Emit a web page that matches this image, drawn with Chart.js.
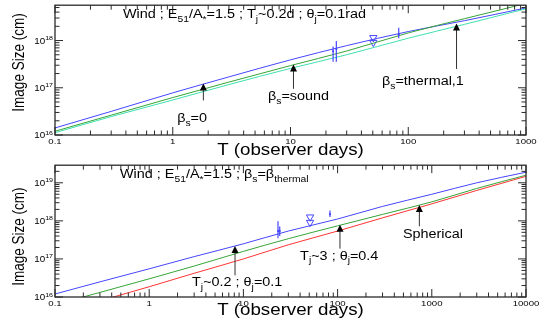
<!DOCTYPE html>
<html>
<head>
<meta charset="utf-8">
<script src="https://cdn.jsdelivr.net/npm/chart.js@4.4.0/dist/chart.umd.min.js"></script>
<style>
html, body { margin: 0; padding: 0; background: #fff; }
#wrap { position: relative; width: 545px; height: 327px; }
canvas { position: absolute; left: 0; }
</style>
</head>
<body>
<div id="wrap">
  <canvas id="topChart" width="545" height="160" style="top:0"></canvas>
  <canvas id="botChart" width="545" height="167" style="top:160px"></canvas>
</div>
<script>
// ---- top panel : Wind, E51/A*=1.5, Tj~0.2d, theta_j=0.1rad
var topT     = [0.1, 0.3, 1, 3, 10, 30, 100, 300, 1000];
var topBlue  = [1.41e16, 3.16e16, 7.8e16, 1.70e17, 3.9e17, 7.8e17, 1.55e18, 2.63e18, 4.9e18];
var topGreen = [1.2e16, 2.63e16, 6.2e16, 1.32e17, 2.95e17, 6.0e17, 1.45e18, 2.9e18, 6.1e18];
var topCyan  = [1.12e16, 2.45e16, 5.5e16, 1.17e17, 2.57e17, 5.0e17, 1.12e18, 2.2e18, 4.7e18];
// measurements (error bars) and upper limits
var topErrT   = [23, 24.5, 83];
var topErrLo  = [3.55e17, 3.55e17, 1.12e18];
var topErrHi  = [7.5e17, 9.8e17, 1.86e18];
var topErrMid = [5.9e17, 6.6e17, 1.32e18];
var topLimT   = [50.5, 50.5];
var topLimY   = [1.15e18, 9.1e17];
// arrows: T, tip, tail
var topArrT    = [1.82, 10.6, 257];
var topArrTip  = [1.23e17, 3.1e17, 2.3e18];
var topArrTail = [5.4e16, 9.5e16, 2.5e17];
var topXTicks = [0.1, 1, 10, 100, 1000];
var topYTicks = [16, 17, 18];

// ---- bottom panel : Wind, E51/A*=1.5, beta_s=beta_thermal
var botT     = [0.1, 0.3, 1, 3, 10, 30, 100, 300, 1000, 3000, 10000];
var botBlue  = [1.2e16, 2.5e16, 5.5e16, 1.15e17, 2.5e17, 5.4e17, 1.12e18, 2.4e18, 5.0e18, 1.0e19, 1.9e19];
var botGreen = [6.3e15, 1.32e16, 3.0e16, 6.5e16, 1.58e17, 3.4e17, 7.4e17, 1.48e18, 3.16e18, 7.1e18, 1.58e19];
var botRed   = [3.6e15, 7.9e15, 1.86e16, 4.2e16, 1.0e17, 2.35e17, 5.4e17, 1.2e18, 2.8e18, 6.3e18, 1.48e19];
var botErrT   = [23.3, 24.3, 83];
var botErrLo  = [3.5e17, 4.0e17, 1.26e18];
var botErrHi  = [9.8e17, 7.1e17, 1.86e18];
var botErrMid = [5.4e17, 5.4e17, 1.5e18];
var botLimT   = [51, 51];
var botLimY   = [1.26e18, 9.1e17];
var botArrT    = [8.15, 106, 738];
var botArrTip  = [2.2e17, 7.9e17, 2.6e18];
var botArrTail = [3.7e16, 1.86e17, 7.2e17];
var botXTicks = [0.1, 1, 10, 100, 1000, 10000];
var botYTicks = [16, 17, 18, 19];

var BLUE = '#4646ff', GREEN = '#37a437', CYAN = '#3fe0b0', RED = '#ff3434';
var SX = 1.2;
var FONT = "'Liberation Sans', Arial, Helvetica, sans-serif";

function pts(xs, ys) {
  return xs.map(function (x, i) { return { x: x, y: ys[i] }; });
}

// text with sub/superscripts, stretched horizontally like the original
function drawRich(ctx, x, y, segs, size, align) {
  ctx.save();
  ctx.translate(x, y);
  ctx.scale(SX, 1);
  ctx.textBaseline = 'alphabetic';
  ctx.textAlign = 'left';
  var w = 0;
  segs.forEach(function (s) {
    ctx.font = (s[1] ? size * 0.72 : size) + 'px ' + FONT;
    w += ctx.measureText(s[0]).width;
  });
  var cx = align === 'right' ? -w : (align === 'center' ? -w / 2 : 0);
  segs.forEach(function (s) {
    ctx.font = (s[1] ? size * 0.72 : size) + 'px ' + FONT;
    var dy = s[1] === -1 ? size * 0.32 : (s[1] === 1 ? -size * 0.42 : 0);
    ctx.fillText(s[0], cx, dy);
    cx += ctx.measureText(s[0]).width;
  });
  ctx.restore();
}

var framePlugin = {
  id: 'frame',
  afterDatasetsDraw: function (chart, args, o) {
    var ctx = chart.ctx, a = chart.chartArea;
    var xs = chart.scales.x, ys = chart.scales.y;
    ctx.save();

    // error bars
    ctx.strokeStyle = BLUE; ctx.lineWidth = 1.2;
    o.errT.forEach(function (t, i) {
      var px = xs.getPixelForValue(t);
      ctx.beginPath();
      ctx.moveTo(px, ys.getPixelForValue(o.errLo[i]));
      ctx.lineTo(px, ys.getPixelForValue(o.errHi[i]));
      ctx.stroke();
    });

    // arrows
    ctx.strokeStyle = '#333'; ctx.fillStyle = '#000'; ctx.lineWidth = 1;
    o.arrT.forEach(function (t, i) {
      var px = xs.getPixelForValue(t);
      var tip = ys.getPixelForValue(o.arrTip[i]);
      var tail = ys.getPixelForValue(o.arrTail[i]);
      ctx.beginPath(); ctx.moveTo(px, tail); ctx.lineTo(px, tip + 5); ctx.stroke();
      ctx.beginPath();
      ctx.moveTo(px, tip); ctx.lineTo(px - 3.5, tip + 7); ctx.lineTo(px + 3.5, tip + 7);
      ctx.closePath(); ctx.fill();
    });

    // frame + inward ticks on four sides
    ctx.strokeStyle = '#2a2a2a'; ctx.lineWidth = 1.3;
    ctx.strokeRect(a.left, a.top, a.right - a.left, a.bottom - a.top);
    ctx.lineWidth = 1;
    var d, m, v, p, len;
    for (d = Math.floor(Math.log10(xs.min)); d <= Math.log10(xs.max); d++) {
      for (m = 1; m <= 9; m++) {
        v = m * Math.pow(10, d);
        if (v < xs.min * 0.999 || v > xs.max * 1.001) continue;
        p = xs.getPixelForValue(v);
        len = m === 1 ? 8 : 4.5;
        ctx.beginPath();
        ctx.moveTo(p, a.bottom); ctx.lineTo(p, a.bottom - len);
        ctx.moveTo(p, a.top); ctx.lineTo(p, a.top + len);
        ctx.stroke();
      }
    }
    for (d = Math.floor(Math.log10(ys.min)); d <= Math.log10(ys.max); d++) {
      for (m = 1; m <= 9; m++) {
        v = m * Math.pow(10, d);
        if (v < ys.min * 0.999 || v > ys.max * 1.001) continue;
        p = ys.getPixelForValue(v);
        len = m === 1 ? 8 : 4.5;
        ctx.beginPath();
        ctx.moveTo(a.left, p); ctx.lineTo(a.left + len, p);
        ctx.moveTo(a.right, p); ctx.lineTo(a.right - len, p);
        ctx.stroke();
      }
    }

    // tick labels
    ctx.fillStyle = '#000';
    o.xTicks.forEach(function (t) {
      drawRich(ctx, xs.getPixelForValue(t), a.bottom + 8.5, [[t < 1 ? '0.1' : String(t), 0]], 8, 'center');
    });
    o.yTicks.forEach(function (e) {
      drawRich(ctx, a.left - 2, ys.getPixelForValue(Math.pow(10, e)) + 3,
        [['10', 0], [String(e), 1]], 8.2, 'right');
    });

    // axis titles
    drawRich(ctx, (a.left + a.right) / 2, a.bottom + o.xTitleGap, [['T (observer days)', 0]], 15.6, 'center');
    ctx.save();
    ctx.translate(23.5, o.yTitleY);
    ctx.rotate(-Math.PI / 2);
    ctx.scale(1, SX);
    ctx.font = '13.5px ' + FONT;
    ctx.textAlign = 'center';
    ctx.textBaseline = 'alphabetic';
    ctx.fillText('Image Size (cm)', 0, 0);
    ctx.restore();

    // panel text and labels
    drawRich(ctx, o.title.x, o.title.y, o.title.segs, 12, 'left');
    o.labels.forEach(function (l) {
      drawRich(ctx, xs.getPixelForValue(l.t), ys.getPixelForValue(l.v), l.segs, 12, 'left');
    });
    ctx.restore();
  }
};

function makeChart(id, T, lines, obs, frame, ymax, xmax, padBottom) {
  var datasets = lines.map(function (l) {
    return {
      data: pts(T, l.values), borderColor: l.color, borderWidth: 1,
      showLine: true, pointRadius: 0, cubicInterpolationMode: 'monotone'
    };
  });
  datasets.push({
    data: pts(obs.limT, obs.limY), showLine: false, pointStyle: 'triangle', rotation: 180,
    pointRadius: 4.2, borderColor: BLUE, borderWidth: 1, backgroundColor: 'rgba(0,0,0,0)'
  });
  datasets.push({
    data: pts(obs.errT, obs.errMid), showLine: false, pointStyle: 'circle',
    pointRadius: 1.1, borderColor: BLUE, backgroundColor: BLUE, borderWidth: 0
  });
  return new Chart(document.getElementById(id), {
    type: 'scatter',
    data: { datasets: datasets },
    options: {
      responsive: false, animation: false, events: [],
      layout: { padding: { left: 55, right: 19, top: 3, bottom: padBottom } },
      scales: {
        x: { type: 'logarithmic', min: 0.1, max: xmax, display: false },
        y: { type: 'logarithmic', min: 1e16, max: ymax, display: false }
      },
      plugins: { legend: { display: false }, tooltip: { enabled: false }, frame: frame }
    },
    plugins: [framePlugin]
  });
}

makeChart('topChart', topT,
  [{ values: topCyan, color: CYAN }, { values: topGreen, color: GREEN }, { values: topBlue, color: BLUE }],
  { limT: topLimT, limY: topLimY, errT: topErrT, errMid: topErrMid },
  {
    errT: topErrT, errLo: topErrLo, errHi: topErrHi,
    arrT: topArrT, arrTip: topArrTip, arrTail: topArrTail,
    xTicks: topXTicks, yTicks: topYTicks, xTitleGap: 20, yTitleY: 62.5,
    title: { x: 123, y: 18.3, segs: [['Wind ; E', 0], ['51', -1], ['/A', 0], ['*', -1], ['=1.5 ; T', 0], ['j', -1], ['~0.2d ; θ', 0], ['j', -1], ['=0.1rad', 0]] },
    labels: [
      { t: 1.09, v: 1.9e16, segs: [['β', 0], ['s', -1], ['=0', 0]] },
      { t: 6.44, v: 5.4e16, segs: [['β', 0], ['s', -1], ['=sound', 0]] },
      { t: 59.8, v: 1.16e17, segs: [['β', 0], ['s', -1], ['=thermal,1', 0]] }
    ]
  }, 5.6e18, 1000, 25);

makeChart('botChart', botT,
  [{ values: botRed, color: RED }, { values: botGreen, color: GREEN }, { values: botBlue, color: BLUE }],
  { limT: botLimT, limY: botLimY, errT: botErrT, errMid: botErrMid },
  {
    errT: botErrT, errLo: botErrLo, errHi: botErrHi,
    arrT: botArrT, arrTip: botArrTip, arrTail: botArrTail,
    xTicks: botXTicks, yTicks: botYTicks, xTitleGap: 18, yTitleY: 76.7,
    title: { x: 120, y: 18.3, segs: [['Wind ; E', 0], ['51', -1], ['/A', 0], ['*', -1], ['=1.5 ; β', 0], ['s', -1], ['=β', 0], ['thermal', -1]] },
    labels: [
      { t: 2.85, v: 1.9e16, segs: [['T', 0], ['j', -1], ['~0.2 ; θ', 0], ['j', -1], ['=0.1', 0]] },
      { t: 40, v: 9.6e16, segs: [['T', 0], ['j', -1], ['~3 ; θ', 0], ['j', -1], ['=0.4', 0]] },
      { t: 494, v: 3.6e17, segs: [['Spherical', 0]] }
    ]
  }, 2.9e19, 10000, 30);
</script>
</body>
</html>
